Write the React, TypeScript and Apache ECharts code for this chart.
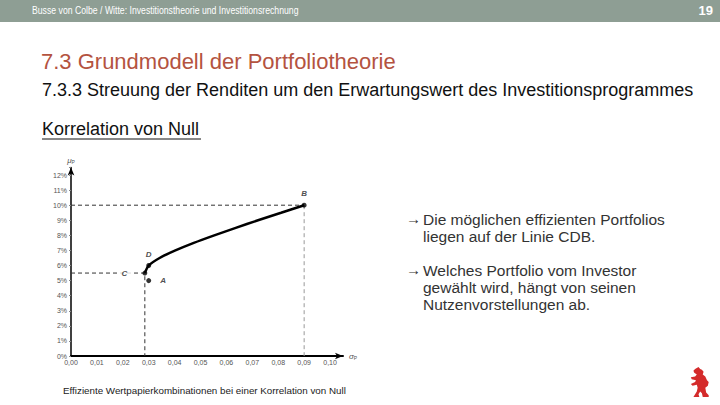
import React, { useEffect, useRef } from "react";
import * as echarts from "echarts";

// Efficient frontier C-D-B (sigma, mu in %)
const curveSigma = [0.0285, 0.03, 0.0342, 0.0403, 0.0474, 0.0553, 0.0636, 0.0722, 0.0811, 0.09];
const curveMu = [5.5, 6, 6.5, 7, 7.5, 8, 8.5, 9, 9.5, 10];

// Marked portfolios
const pointNames = ["A", "B", "C", "D"];
const pointSigma = [0.03, 0.09, 0.0285, 0.03];
const pointMu = [5, 10, 5.5, 6];
const pointLabelPos = ["right", "top", "left", "top"];

const headerText = "Busse von Colbe / Witte: Investitionstheorie und Investitionsrechnung";
const pageNumber = "19";
const titleText = "7.3 Grundmodell der Portfoliotheorie";
const subtitleText = "7.3.3 Streuung der Renditen um den Erwartungswert des Investitionsprogrammes";
const sectionText = "Korrelation von Null";
const captionText = "Effiziente Wertpapierkombinationen bei einer Korrelation von Null";
const bullet1 = ["Die möglichen effizienten Portfolios", "liegen auf der Linie CDB."];
const bullet2 = ["Welches Portfolio vom Investor", "gewählt wird, hängt von seinen", "Nutzenvorstellungen ab."];

const bearPath =
  "M6,2 L10,0 L12,2 L14,3 L16,5 L15,8 L18,10 L20,14 L22,16 L21,20 L18,22 L19,27 L22,30 L22,32 L15,32 L14,28 L12,26 L10,29 L11,32 L4,32 L6,29 L8,26 L9,22 L8,19 L3,20 L1,18 L6,16 L7,14 L2,13 L1,11 L6,10 L8,8 L5,6 L4,4 Z";

let registered = false;

export default function App() {
  const ref = useRef<HTMLDivElement>(null);
  useEffect(() => {
    if (!registered) {
      echarts.graphic.registerShape("bear", echarts.graphic.extendPath(bearPath, {}) as any);
      registered = true;
    }
    const chart = echarts.init(ref.current!, null, { renderer: "svg" });
    const font = "Liberation Sans, Arial, sans-serif";
    const iB = pointNames.indexOf("B");
    const iC = pointNames.indexOf("C");
    const dashDark = { color: "#333", width: 1, type: [4, 3] as any };
    const dashLight = { color: "#999", width: 1, type: [4, 3] as any };
    const guide = (data: number[][], ls: any) => ({
      type: "line",
      data,
      symbol: "none",
      lineStyle: ls,
      silent: true,
      z: 1,
    });
    const isMult = (v: number, s: number) => Math.abs(v / s - Math.round(v / s)) < 1e-6;

    const bulletText = (lines: string[], y: number) => [
      { type: "text", left: 406, top: y, style: { text: "→", fontSize: 15, fill: "#333", fontFamily: font } },
      ...lines.map((l, k) => ({
        type: "text",
        left: 423,
        top: y + k * 17,
        style: { text: l, fontSize: 15.5, fill: "#333", fontFamily: font },
      })),
    ];

    chart.setOption({
      animation: false,
      grid: { left: 71, right: 377, top: 167.5, bottom: 49, containLabel: false },
      xAxis: {
        type: "value",
        min: 0,
        max: 0.105,
        interval: 0.01,
        name: "{a|σ}{b|P}",
        nameLocation: "end",
        nameGap: 6,
        nameTextStyle: {
          rich: {
            a: { fontSize: 8, color: "#555", fontStyle: "italic", fontFamily: font },
            b: { fontSize: 5, color: "#555", verticalAlign: "bottom", fontFamily: font },
          },
        },
        axisLine: { symbol: ["none", "arrow"], symbolSize: [5, 8], lineStyle: { color: "#000", width: 2 } },
        axisTick: { show: false },
        splitLine: { show: false },
        axisLabel: {
          fontSize: 7,
          color: "#555",
          fontFamily: font,
          margin: 3,
          formatter: (v: number) => (isMult(v, 0.01) && v <= 0.1 + 1e-9 ? v.toFixed(2).replace(".", ",") : ""),
        },
      },
      yAxis: {
        type: "value",
        min: 0,
        max: 12.5,
        interval: 1,
        name: "{a|μ}{b|P}",
        nameLocation: "end",
        nameGap: 3,
        nameTextStyle: {
          align: "center",
          rich: {
            a: { fontSize: 8, color: "#555", fontStyle: "italic", fontFamily: font },
            b: { fontSize: 5, color: "#555", verticalAlign: "bottom", fontFamily: font },
          },
        },
        axisLine: { symbol: ["none", "arrow"], symbolSize: [5, 8], lineStyle: { color: "#000", width: 1.5 } },
        axisTick: { show: true, length: 2, lineStyle: { color: "#888" } },
        splitLine: { show: false },
        axisLabel: {
          fontSize: 7,
          color: "#555",
          fontFamily: font,
          margin: 4,
          formatter: (v: number) => (isMult(v, 1) && v <= 12 ? Math.round(v) + "%" : ""),
        },
      },
      series: [
        guide([[0, pointMu[iB]], [pointSigma[iB], pointMu[iB]]], dashDark),
        guide([[pointSigma[iB], pointMu[iB]], [pointSigma[iB], 0]], dashLight),
        guide(
          [[0, pointMu[iC]], [pointSigma[iC], pointMu[iC]], [pointSigma[iC], 0]],
          dashDark
        ),
        {
          type: "line",
          data: curveSigma.map((s, k) => [s, curveMu[k]]),
          symbol: "none",
          smooth: 0.3,
          lineStyle: { color: "#000", width: 2.5 },
          z: 3,
        },
        {
          type: "scatter",
          symbolSize: 5,
          itemStyle: { color: "#000" },
          z: 4,
          data: pointNames.map((n, k) => ({
            value: [pointSigma[k], pointMu[k]],
            label: {
              show: true,
              formatter: n,
              position: pointLabelPos[k],
              distance: n === "C" ? 11 : n === "A" ? 9 : 5,
              fontSize: 8,
              fontWeight: "bold",
              fontStyle: "italic",
              color: "#222",
              fontFamily: font,
              backgroundColor: n === "C" ? "#fff" : "transparent",
              padding: n === "C" ? [0, 4] : 0,
            },
          })),
        },
      ],
      graphic: [
        { type: "rect", left: 0, top: 0, shape: { width: 720, height: 22 }, style: { fill: "#8e9e94" } },
        {
          type: "text",
          x: 32,
          y: 5,
          scaleX: 0.79,
          style: { text: headerText, fontSize: 11, fill: "#fff", fontFamily: font },
        },
        {
          type: "text",
          right: 7,
          top: 4,
          style: { text: pageNumber, fontSize: 13, fontWeight: "bold", fill: "#fff", fontFamily: font },
        },
        {
          type: "text",
          left: 41,
          top: 50,
          style: { text: titleText, fontSize: 22, fill: "#b4533f", fontFamily: font },
        },
        {
          type: "text",
          left: 42,
          top: 81,
          style: { text: subtitleText, fontSize: 18, fill: "#111", fontFamily: font },
        },
        {
          type: "text",
          left: 42,
          top: 120,
          style: { text: sectionText, fontSize: 18, fill: "#111", fontFamily: font },
        },
        { type: "line", shape: { x1: 42, y1: 139, x2: 201, y2: 139 }, style: { stroke: "#111", lineWidth: 1 } },
        ...bulletText(bullet1, 211),
        ...bulletText(bullet2, 262),
        {
          type: "text",
          left: 63,
          top: 385,
          style: { text: captionText, fontSize: 9.8, fill: "#222", fontFamily: font },
        },
        {
          type: "bear",
          x: 690,
          y: 367,
          scaleX: 0.85,
          scaleY: 0.94,
          style: { fill: "#d42b2b" },
        } as any,
      ],
    });
    return () => chart.dispose();
  }, []);
  return (
    <div
      ref={ref}
      style={{ position: "fixed", left: 0, top: 0, width: 720, height: 405, background: "#fff" }}
    />
  );
}
